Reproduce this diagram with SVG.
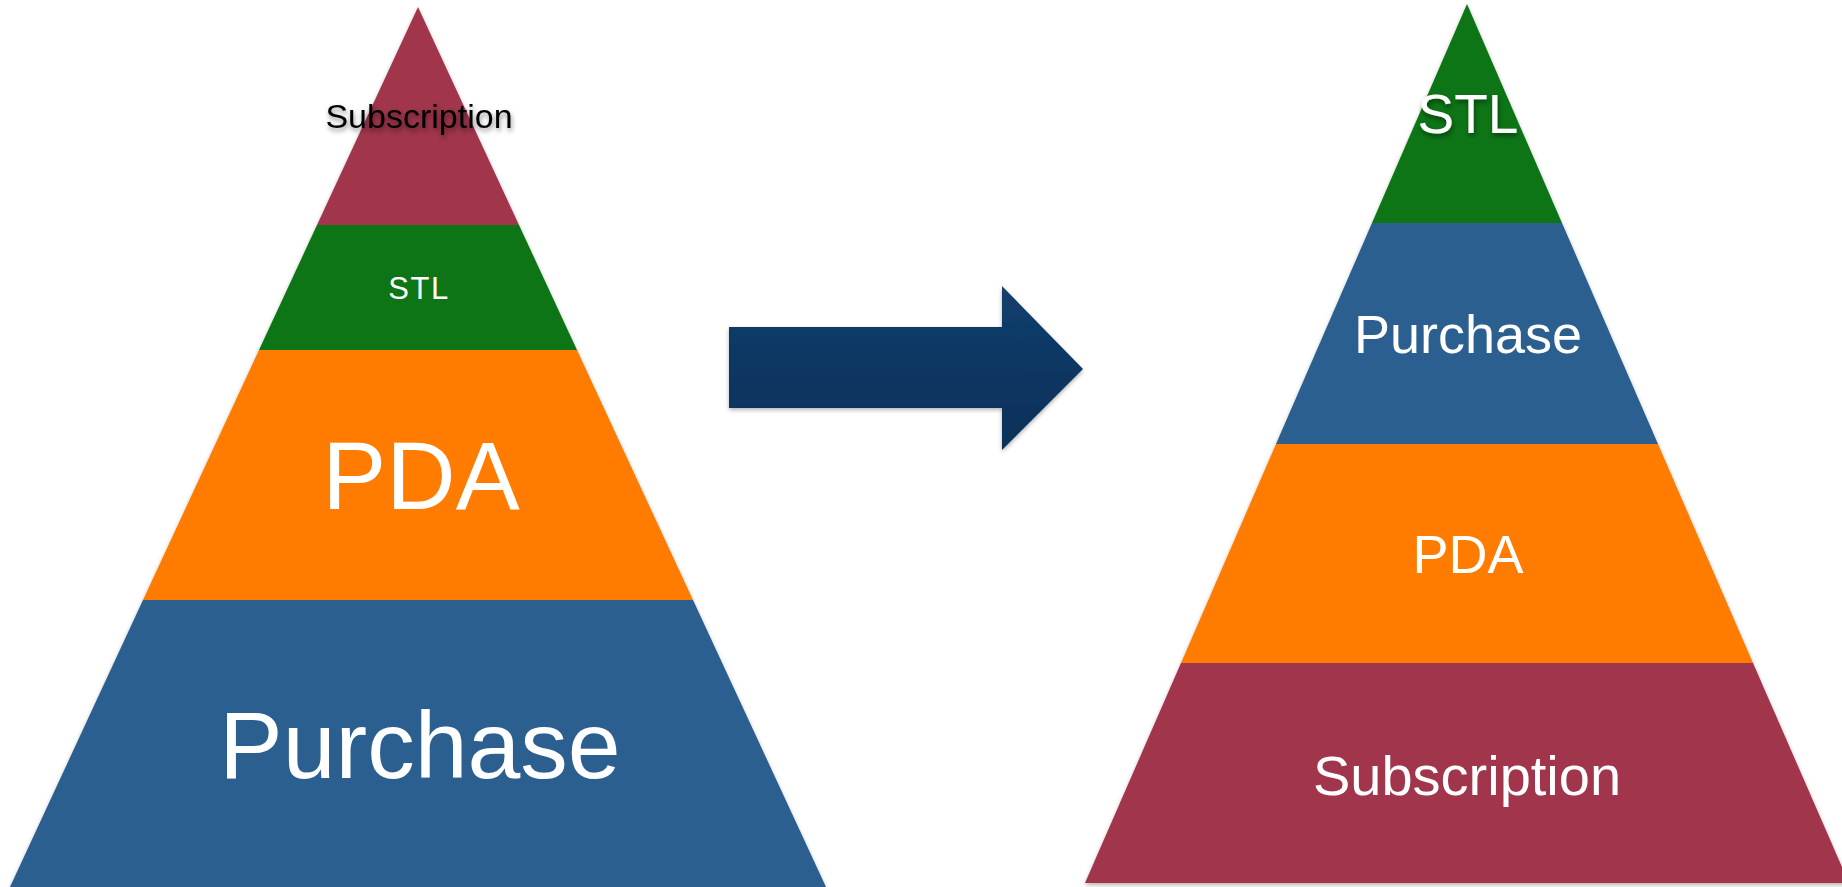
<svg xmlns="http://www.w3.org/2000/svg" width="1842" height="887" viewBox="0 0 1842 887">
<defs>
<style>
.lbl{font-family:"Liberation Sans",Arial,sans-serif;text-anchor:middle;fill:#ffffff}
.maroon{fill:#A0344B}
.green{fill:#0B7512}
.orange{fill:#FF7B00}
.blue{fill:#295E8F}
</style>
<filter id="sh" x="-10%" y="-10%" width="120%" height="120%">
<feDropShadow dx="0" dy="2" stdDeviation="2" flood-color="#000" flood-opacity="0.3"/>
</filter>
<filter id="tsh" x="-20%" y="-40%" width="140%" height="180%">
<feDropShadow dx="1" dy="3" stdDeviation="2.5" flood-color="#000" flood-opacity="0.45"/>
</filter>
<linearGradient id="ag" x1="0" y1="0" x2="0" y2="1">
<stop offset="0" stop-color="#133F6D"/>
<stop offset="1" stop-color="#0B2F58"/>
</linearGradient>
</defs>
<rect width="1842" height="887" fill="#ffffff"/>

<g id="left-pyramid" filter="url(#sh)">
<g id="left-subscription">
<polygon class="maroon" points="418,7 519,225 317,225"/>
</g>
<g id="left-stl">
<polygon class="green" points="317,225 519,225 577,350 259,350"/>
</g>
<g id="left-pda">
<polygon class="orange" points="259,350 577,350 693,600 143,600"/>
</g>
<g id="left-purchase">
<polygon class="blue" points="143,600 693,600 826,887 10,887"/>
</g>
</g>
<g id="left-labels">
<text class="lbl" x="419" y="128" font-size="34" style="fill:#000000" filter="url(#tsh)">Subscription</text>
<text class="lbl" x="419" y="299" font-size="31" letter-spacing="1.5">STL</text>
<text class="lbl" x="421" y="509" font-size="96">PDA</text>
<text class="lbl" x="420" y="778" font-size="95">Purchase</text>
</g>

<g id="connectors">
<polygon points="729,327 1002,327 1002,286 1083,369 1002,450 1002,408 729,408" fill="url(#ag)" filter="url(#sh)"/>
</g>

<g id="right-pyramid" filter="url(#sh)">
<g id="right-stl">
<polygon class="green" points="1467,4 1562,223 1372,223"/>
</g>
<g id="right-purchase">
<polygon class="blue" points="1372,223 1562,223 1658,444 1276,444"/>
</g>
<g id="right-pda">
<polygon class="orange" points="1276,444 1658,444 1753,663 1181,663"/>
</g>
<g id="right-subscription">
<polygon class="maroon" points="1181,663 1753,663 1849,883 1085,883"/>
</g>
</g>
<g id="right-labels">
<text class="lbl" x="1468" y="133" font-size="55" filter="url(#tsh)">STL</text>
<text class="lbl" x="1468" y="353" font-size="54">Purchase</text>
<text class="lbl" x="1468" y="573" font-size="54">PDA</text>
<text class="lbl" x="1467" y="795" font-size="56">Subscription</text>
</g>
</svg>
